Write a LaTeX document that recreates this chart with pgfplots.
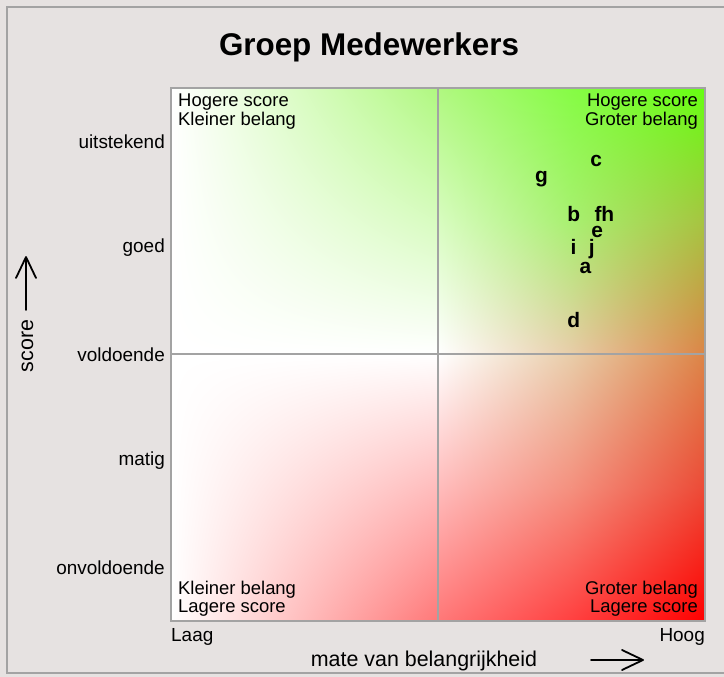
\documentclass[border=0pt]{standalone}
\usepackage{fontspec}
\setmainfont{Liberation Sans}
\usepackage{pgfplots}
\pgfplotsset{compat=1.18}
\usetikzlibrary{shadings}

\definecolor{bg}{HTML}{E6E2E1}
\definecolor{framegray}{HTML}{A3A3A3}
% hoekkleuren van de achtergrond
\definecolor{tm}{HTML}{B0F880}
\definecolor{tq}{HTML}{86FC45}
\definecolor{tr}{HTML}{66FF11}
\definecolor{lg}{HTML}{D8FCC0}
\definecolor{cg}{HTML}{A8F070}
\definecolor{rg}{HTML}{A6C440}
\definecolor{cm}{HTML}{E8CCA8}
\definecolor{rm}{HTML}{DC8446}
\definecolor{lr}{HTML}{FFBCBC}
\definecolor{cr}{HTML}{F4907E}
\definecolor{rr}{HTML}{EC4A36}
\definecolor{bm}{HTML}{FF7878}
\definecolor{bq}{HTML}{FF4040}
\definecolor{br}{HTML}{FF0000}

% \patch{x0}{y0}{x1}{y1}{upper left}{upper right}{lower left}{lower right}
\newcommand\patch[8]{%
  \shade[upper left=#5, upper right=#6, lower left=#7, lower right=#8]
    (axis cs:#1,#2) rectangle (axis cs:#3,#4);}

\begin{document}
\begin{tikzpicture}[x=1bp,y=1bp]
\useasboundingbox (0,0) rectangle (724,677);
\fill[bg] (0,0) rectangle (724,677);
\draw[framegray, line width=2bp] (7,3.5) rectangle (760,670);

\begin{axis}[
    at={(171bp,56bp)}, anchor=south west,
    scale only axis, width=534bp, height=533bp,
    xmin=0.5, xmax=5.5, ymin=0.5, ymax=5.5,
    axis on top,
    axis line style={framegray, line width=2.5bp},
    xtick=\empty,
    ytick={1,2,3,4,5},
    yticklabels={onvoldoende,matig,voldoende,goed,uitstekend},
    major tick length=0pt,
    tick style={draw=none},
    yticklabel style={font=\fontsize{19}{22}\selectfont, inner sep=0pt, xshift=-6bp},
]
% achtergrond
\patch{0.5}{3}{3}{5.5}{white}{tm}{white}{white}
\patch{0.5}{0.5}{3}{3}{white}{white}{white}{bm}
\patch{3}{4.25}{4.25}{5.5}{tm}{tq}{lg}{cg}
\patch{4.25}{4.25}{5.5}{5.5}{tq}{tr}{cg}{rg}
\patch{3}{3}{4.25}{4.25}{lg}{cg}{white}{cm}
\patch{4.25}{3}{5.5}{4.25}{cg}{rg}{cm}{rm}
\patch{3}{1.75}{4.25}{3}{white}{cm}{lr}{cr}
\patch{4.25}{1.75}{5.5}{3}{cm}{rm}{cr}{rr}
\patch{3}{0.5}{4.25}{1.75}{lr}{cr}{bm}{bq}
\patch{4.25}{0.5}{5.5}{1.75}{cr}{rr}{bq}{br}
\draw[framegray, line width=2bp] (axis cs:3,0.5) -- (axis cs:3,5.5);
\draw[framegray, line width=2bp] (axis cs:0.5,3) -- (axis cs:5.5,3);

\addplot[only marks, mark=none, nodes near coords, point meta=explicit symbolic,
    every node near coord/.append style={anchor=center, inner sep=0pt,
        font=\fontsize{21}{21}\selectfont\bfseries, text height=14bp, text depth=0bp}]
    table[meta=label] {
x    y    label
4.48 4.83 c
3.97 4.68 g
4.27 4.31 b
4.50 4.31 f
4.59 4.31 h
4.49 4.16 e
4.27 4.00 i
4.44 4.00 j
4.38 3.83 a
4.27 3.32 d
};
\end{axis}

% kwadrantteksten
\begin{scope}[every node/.style={inner sep=0pt, font=\fontsize{18.5}{19}\selectfont}]
\node[anchor=base west] at (178,570) {Hogere score};
\node[anchor=base west] at (178,551) {Kleiner belang};
\node[anchor=base east] at (698,570) {Hogere score};
\node[anchor=base east] at (698,551) {Groter belang};
\node[anchor=base west] at (178,82) {Kleiner belang};
\node[anchor=base west] at (178,64) {Lagere score};
\node[anchor=base east] at (698,82) {Groter belang};
\node[anchor=base east] at (698,64) {Lagere score};
\end{scope}

% as-teksten en pijlen
\node[anchor=base west, inner sep=0pt, font=\fontsize{19}{22}\selectfont] at (171,35) {Laag};
\node[anchor=base east, inner sep=0pt, font=\fontsize{19}{22}\selectfont] at (705,35) {Hoog};
\node[anchor=base, inner sep=0pt, font=\fontsize{21.5}{26}\selectfont] at (424,10) {mate van belangrijkheid};
\draw[line width=1.8bp, line cap=round, line join=round] (591,17) -- (643,17)
    (622,27) -- (643,17) -- (622,7);
\node[anchor=base, rotate=90, inner sep=0pt, font=\fontsize{21.5}{26}\selectfont] at (33,331) {score};
\draw[line width=1.8bp, line cap=round, line join=round] (26,367) -- (26,420)
    (16,399) -- (26,420) -- (36,399);

\node[anchor=base, inner sep=0pt, font=\fontsize{31.5}{36}\bfseries] at (369,621) {Groep Medewerkers};
\end{tikzpicture}
\end{document}
